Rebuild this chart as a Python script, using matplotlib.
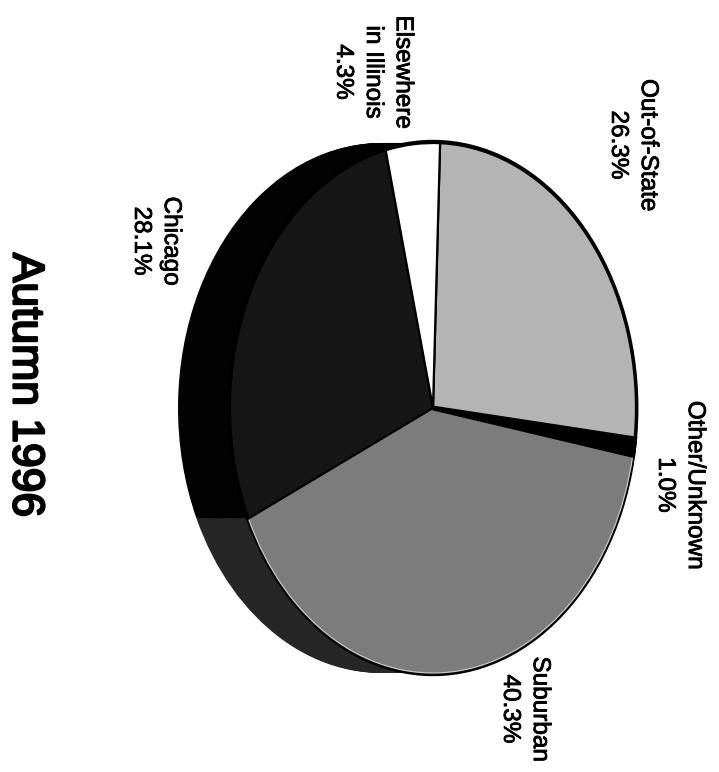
import numpy as np
import matplotlib
matplotlib.use('Agg')
import matplotlib.pyplot as plt
import matplotlib.patheffects as pe

plt.rcParams['font.family'] = ['Liberation Sans', 'DejaVu Sans']

# Shares going clockwise from the top of the (sideways) page
categories = ['Out-of-State', 'Other/Unknown', 'Suburban', 'Chicago', 'Elsewhere\nin Illinois']
shares = [26.3, 1.0, 40.3, 28.1, 4.3]
top_colors = ['#b4b4b4', '#000000', '#7c7c7c', '#161616', '#ffffff']
side_colors = ['#000000', '#000000', '#262626', '#020202', '#000000']
title = 'Autumn 1996'

W, H = 719, 772
cx, cy = 433, 408      # pie centre in pixels
rx, ry = 203, 265      # squashed radii in pixels
depth = 52

label_pos = [(633, 145), (680, 485), (525, 709), (156, 241), (373, 72)]

fig = plt.figure(figsize=(W / 100, H / 100), dpi=100)
ax = fig.add_axes([0, 0, 1, 1])


def to_x(px):
    return (px - cx) / rx


def to_y(py):
    return (cy - py) / ry


# the side of the tilted pie is a stack of pies moving toward the top one
for off in np.arange(depth, 0, -1.5):
    ax.pie(shares, colors=side_colors, startangle=88, counterclock=False,
           radius=1, center=(-off / rx, 0))

# black rim, then the top face
ax.pie([1], colors=['black'], radius=1.012, center=(0, 0))
wedges, _ = ax.pie(shares, colors=top_colors, startangle=88, counterclock=False,
                   radius=1, center=(0, 0),
                   wedgeprops={'edgecolor': 'black', 'linewidth': 1.6})
wedges[2].set_edgecolor('#c8c8c8')
wedges[2].set_linewidth(0.9)
# the Other/Unknown sliver reads as a strip in the scan
wedges[1].set_linewidth(3.5)
wedges[1].set_zorder(wedges[2].get_zorder() + 1)

ax.set_aspect('auto')
ax.set_xlim(to_x(0), to_x(W))
ax.set_ylim(to_y(H), to_y(0))
ax.axis('off')

for name, share, (px, py) in zip(categories, shares, label_pos):
    t = ax.text(to_x(px), to_y(py), f'{name}\n{share:.1f}%', rotation=-90,
                ha='center', va='center', multialignment='center',
                fontsize=17.5, linespacing=1.46, color='black')
    t.set_path_effects([pe.withStroke(linewidth=0.6, foreground='black')])

t = ax.text(to_x(25), to_y(385), title, rotation=-90, ha='center', va='center',
            fontsize=32, color='black')
t.set_path_effects([pe.withStroke(linewidth=1.6, foreground='black')])

fig.savefig('out.png', dpi=100)
